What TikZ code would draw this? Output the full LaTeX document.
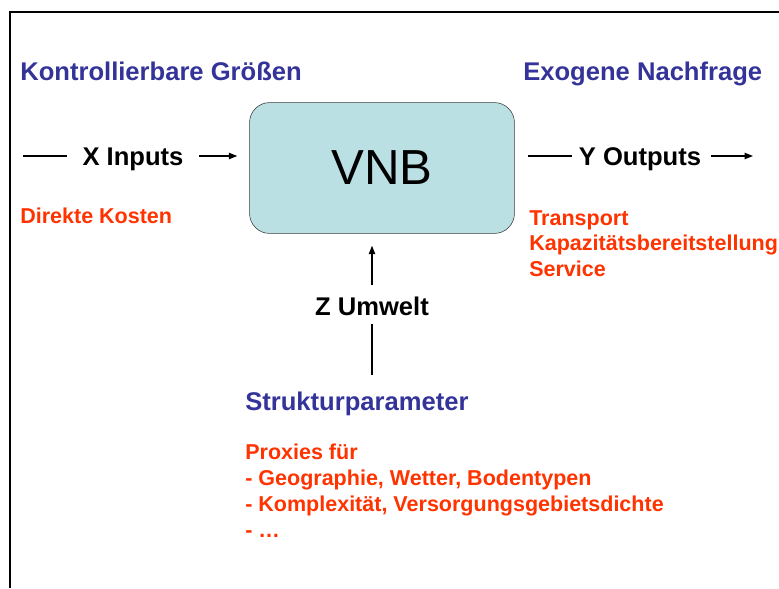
\documentclass[tikz,border=0pt]{standalone}
\usepackage{fontspec}
\setmainfont{Liberation Sans}
\usetikzlibrary{arrows.meta,positioning}
\definecolor{tb}{HTML}{333399}
\definecolor{tr}{HTML}{FF3300}
\definecolor{bf}{HTML}{BAE0E3}
\definecolor{bb}{HTML}{3A3A3A}

\begin{document}
\begin{tikzpicture}[x=0.025cm,y=-0.025cm,
  hd/.style={font=\fontsize{18.2}{21}\selectfont\bfseries,inner sep=0pt,text height=13pt,text depth=0pt},
  tt/.style={font=\fontsize{18.2}{21}\selectfont\bfseries,text=tb,inner sep=0pt,anchor=base west},
  rd/.style={font=\fontsize{15.3}{18.3}\selectfont\bfseries,text=tr,inner sep=0pt,anchor=north west,align=left},
  vb/.style={draw=bb,fill=bf,rounded corners=0.5cm,minimum width=6.62cm,minimum height=3.27cm,font=\fontsize{35}{40}\selectfont},
  ln/.style={line width=1pt},
  ar/.style={ln,-{Triangle[length=6pt,width=4.5pt]}}]
\useasboundingbox (0,0) rectangle (779,588);
\draw[line width=1.5pt] (779,12) -- (10,12) -- (10,588);
% titles
\node[tt] (kg) at (20,80) {Kontrollierbare Größen};
\node[tt] (en) at (523,80) {Exogene Nachfrage};
% system
\node[vb] (vnb) at (382,168) {VNB};
\node[hd] (x) at (133,156) {X Inputs};
\node[hd] (y) at (640,156) {Y Outputs};
\node[hd] (z) at (372,306) {Z Umwelt};
\coordinate (xin) at (23,156);
\coordinate (yout) at (753,156);
\draw[ln,shorten >=0.375cm] (xin) -- (x);
\draw[ar,shorten <=0.375cm,shorten >=0.3cm] (x) -- (vnb.west |- x);
\draw[ln,shorten <=0.325cm,shorten >=0.175cm] (vnb.east |- y) -- (y);
\draw[ar,shorten <=0.25cm] (y) -- (yout);
% red lists
\node[rd] (dk) at (20,208) {Direkte Kosten};
\node[rd] (out) at (529,210) {Transport\\Kapazitätsbereitstellung\\Service};
% environment
\node[tt] (sp) at (245,410) {Strukturparameter};
\node[rd] (px) at (245,444) {Proxies für\\- Geographie, Wetter, Bodentypen\\- Komplexität, Versorgungsgebietsdichte\\- …};
\draw[ar,shorten <=0.3cm,shorten >=0.3cm] (z) -- (z |- vnb.south);
\draw[ln,shorten <=0.4cm,shorten >=0.225cm] (z.south |- sp.north) -- (z.south);
\end{tikzpicture}
\end{document}
